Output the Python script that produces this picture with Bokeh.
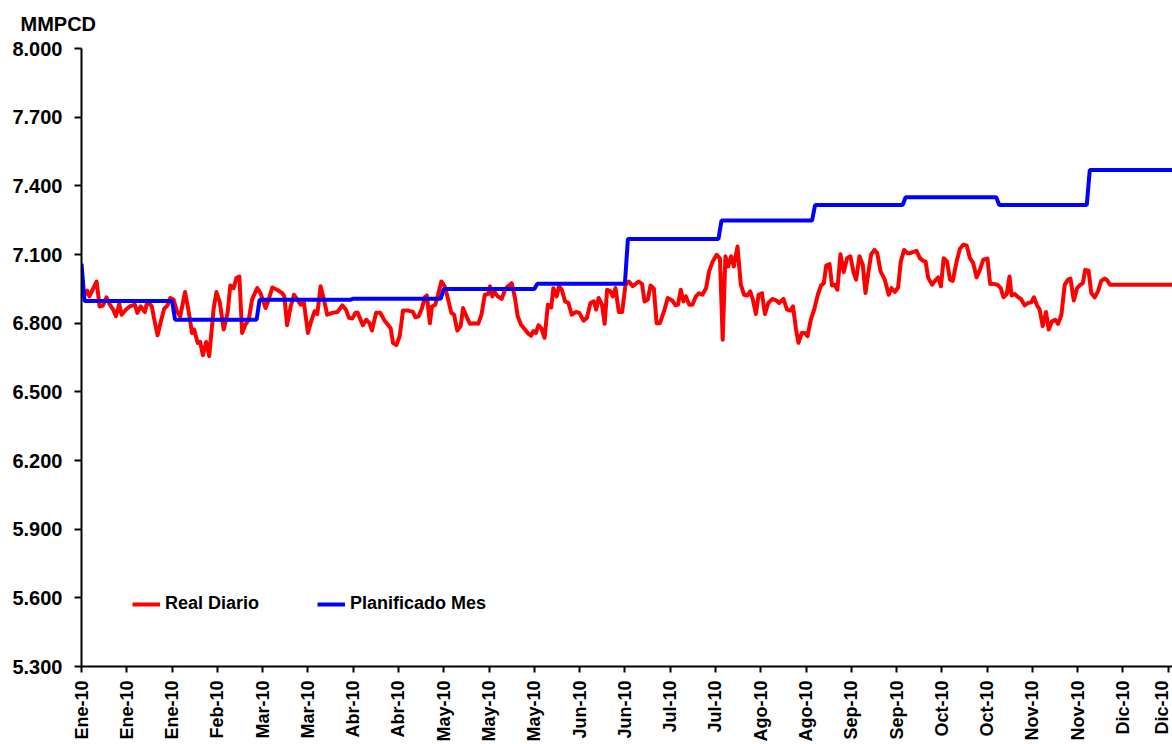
from bokeh.plotting import figure
from bokeh.models import Range1d, FixedTicker, PrintfTickFormatter, Legend, LegendItem, Title
from bokeh.embed import file_html
from bokeh.resources import INLINE

# ---------------- data ----------------
x_tick_days = [0, 15, 30, 45, 60, 75, 90, 105, 120, 135, 150, 165, 180, 195, 210,
               225, 240, 255, 270, 285, 300, 315, 330, 345, 360]
x_tick_labels = ["Ene-10", "Ene-10", "Ene-10", "Feb-10", "Mar-10", "Mar-10", "Abr-10",
                 "Abr-10", "May-10", "May-10", "May-10", "Jun-10", "Jun-10", "Jul-10",
                 "Jul-10", "Ago-10", "Ago-10", "Sep-10", "Sep-10", "Oct-10", "Oct-10",
                 "Nov-10", "Nov-10", "Dic-10", "Dic-10"]
y_ticks = [5.3, 5.6, 5.9, 6.2, 6.5, 6.8, 7.1, 7.4, 7.7, 8.0]

# Planificado Mes: monthly plan values
month_lengths = [31, 28, 31, 30, 31, 30, 31, 31, 30, 31, 30, 31]
plan_values = [6.897, 6.815, 6.902, 6.907, 6.949, 6.972, 7.168, 7.248, 7.316, 7.350, 7.316, 7.469]
plan_first_day = 7.06

# Real Diario: day of year and value
real_days = [0, 0.5, 1.2, 1.9, 2.6, 5.0, 6.0, 7.1, 8.3, 9.4, 10.5, 11.4, 12.5, 13.3, 14.7, 16.0,
             17.7, 18.5, 19.6, 21.0, 21.8, 23.3, 24.0, 25.2, 26.3, 27.4, 28.5, 29.4, 30.5, 31.6,
             32.7, 34.3, 35.5, 36.6, 37.3, 38.5, 39.3, 40.2, 41.3, 42.3, 43.8, 44.7, 45.8, 47.1,
             48.4, 49.3, 50.4, 51.3, 52.3, 53.2, 54.3, 55.4, 56.5, 58.2, 59.3, 61.0, 62.0, 63.2,
             64.8, 66.5, 67.2, 68.1, 69.3, 70.4, 71.5, 72.6, 73.7, 75.0, 75.9, 77.2, 78.1, 79.2,
             80.3, 81.4, 83.1, 84.8, 86.4, 87.6, 88.6, 89.7, 90.8, 91.5, 93.2, 94.3, 95.4, 96.2,
             97.6, 99.0, 100.4, 101.5, 102.4, 103.2, 104.3, 105.4, 106.5, 108.2, 109.8, 110.6,
             111.7, 112.8, 113.7, 114.4, 115.4, 116.1, 117.2, 118.1, 119.2, 120.3, 121.2, 122.5,
             123.4, 124.5, 125.6, 126.4, 127.5, 128.7, 130.1, 131.4, 132.5, 133.6, 134.7, 135.3,
             136.1, 136.8, 137.9, 139.2, 140.3, 141.2, 142.0, 142.5, 143.6, 144.5, 145.6, 146.9,
             148.0, 148.9, 149.7, 150.5, 151.4, 152.3, 153.4, 154.5, 155.6, 156.3, 157.4, 158.2,
             159.1, 160.2, 161.3, 162.4, 163.8, 164.9, 166.3, 167.4, 168.6, 169.7, 170.5, 171.3,
             172.4, 173.3, 174.1, 175.2, 176.0, 176.9, 178.0, 179.1, 180.2, 181.3, 182.6, 184.6,
             185.7, 186.5, 187.6, 188.5, 189.6, 190.5, 191.6, 192.9, 194.2, 195.7, 196.8, 197.6,
             198.5, 199.4, 200.2, 201.3, 202.4, 203.5, 204.6, 205.7, 206.9, 207.9, 209.0, 210.4,
             211.5, 212.4, 213.3, 214.2, 215.2, 216.1, 217.3, 218.4, 219.5, 220.6, 221.5, 222.4,
             223.4, 224.3, 225.4, 226.4, 227.5, 228.9, 230.2, 231.1, 232.5, 233.7, 234.8, 235.7,
             236.7, 237.5, 238.6, 239.6, 240.5, 241.6, 242.7, 243.9, 245.0, 245.9, 246.7, 247.8,
             248.6, 249.5, 250.4, 251.4, 252.5, 253.6, 254.7, 255.8, 256.6, 257.7, 258.8, 259.7,
             260.7, 261.6, 262.7, 263.6, 264.7, 266.1, 267.4, 268.3, 269.4, 270.5, 271.4, 272.5,
             273.6, 274.5, 276.6, 277.7, 278.8, 279.6, 280.5, 281.8, 282.7, 283.8, 284.7, 285.6,
             286.7, 287.7, 288.6, 289.9, 291.0, 292.1, 293.2, 294.3, 295.4, 296.5, 297.6, 298.7,
             300.1, 301.0, 302.2, 303.4, 304.5, 305.4, 306.5, 307.4, 308.1, 309.2, 310.3, 311.2,
             312.4, 313.5, 314.6, 315.5, 316.5, 317.4, 318.4, 319.5, 320.4, 321.5, 322.6, 323.5,
             324.6, 325.7, 326.8, 327.6, 328.7, 329.8, 330.9, 331.7, 332.5, 333.6, 334.5, 335.6,
             336.7, 337.8, 338.9, 339.6, 340.7, 364.0]
real_values = [6.968, 6.939, 6.927, 6.942, 6.917, 6.982, 6.873, 6.877, 6.913, 6.881, 6.859, 6.830,
               6.884, 6.837, 6.859, 6.873, 6.881, 6.845, 6.873, 6.849, 6.895, 6.873, 6.823, 6.747,
               6.808, 6.863, 6.878, 6.910, 6.903, 6.852, 6.830, 6.936, 6.852, 6.757, 6.772, 6.714,
               6.718, 6.660, 6.718, 6.656, 6.866, 6.936, 6.892, 6.772, 6.845, 6.965, 6.953, 6.997,
               7.004, 6.757, 6.793, 6.815, 6.903, 6.953, 6.931, 6.866, 6.903, 6.956, 6.946, 6.931,
               6.917, 6.791, 6.873, 6.924, 6.903, 6.881, 6.888, 6.757, 6.800, 6.852, 6.840, 6.961,
               6.903, 6.837, 6.845, 6.849, 6.878, 6.859, 6.823, 6.820, 6.845, 6.845, 6.791, 6.815,
               6.800, 6.768, 6.845, 6.845, 6.811, 6.793, 6.778, 6.714, 6.704, 6.743, 6.855, 6.855,
               6.849, 6.826, 6.830, 6.866, 6.913, 6.921, 6.800, 6.873, 6.881, 6.924, 6.982, 6.961,
               6.917, 6.845, 6.837, 6.768, 6.787, 6.866, 6.830, 6.797, 6.800, 6.797, 6.837, 6.924,
               6.927, 6.961, 6.917, 6.936, 6.917, 6.906, 6.946, 6.961, 6.968, 6.975, 6.910, 6.830,
               6.793, 6.772, 6.754, 6.745, 6.765, 6.757, 6.791, 6.778, 6.736, 6.881, 6.869, 6.953,
               6.917, 6.961, 6.946, 6.895, 6.888, 6.837, 6.849, 6.845, 6.811, 6.823, 6.888, 6.895,
               6.859, 6.910, 6.881, 6.797, 6.946, 6.939, 6.917, 6.953, 6.849, 6.849, 6.968, 6.982,
               6.962, 6.982, 6.971, 6.895, 6.903, 6.965, 6.951, 6.800, 6.800, 6.849, 6.910, 6.899,
               6.878, 6.881, 6.946, 6.895, 6.917, 6.881, 6.881, 6.917, 6.931, 6.924, 6.953, 7.026,
               7.067, 7.099, 7.082, 6.728, 7.092, 7.048, 7.092, 7.048, 7.135, 6.968, 6.924, 6.921,
               6.939, 6.903, 6.840, 6.924, 6.931, 6.840, 6.888, 6.906, 6.899, 6.888, 6.906, 6.859,
               6.855, 6.873, 6.772, 6.714, 6.757, 6.757, 6.743, 6.815, 6.859, 6.924, 6.965, 6.975,
               7.052, 7.058, 6.965, 6.968, 6.946, 7.101, 7.023, 7.084, 7.092, 7.019, 6.990, 7.092,
               7.055, 6.932, 7.026, 7.101, 7.120, 7.106, 7.026, 6.990, 6.924, 6.953, 6.936, 6.956,
               7.070, 7.120, 7.106, 7.106, 7.116, 7.084, 7.072, 7.070, 6.997, 6.968, 6.985, 7.000,
               6.961, 7.084, 7.070, 6.990, 6.985, 7.070, 7.125, 7.143, 7.140, 7.084, 7.062, 7.000,
               7.033, 7.077, 7.082, 6.971, 6.971, 6.968, 6.953, 6.913, 6.927, 7.004, 6.921, 6.927,
               6.913, 6.906, 6.878, 6.888, 6.891, 6.913, 6.878, 6.859, 6.787, 6.849, 6.772, 6.808,
               6.815, 6.797, 6.837, 6.968, 6.990, 6.995, 6.899, 6.953, 6.968, 6.975, 7.033, 7.029,
               6.932, 6.913, 6.939, 6.985, 6.995, 6.990, 6.968, 6.968]

# build daily plan series from monthly values
plan_days = [0]
plan_daily = [plan_first_day]
d = 0
for m, n in enumerate(month_lengths):
    for _ in range(n):
        if d > 0:
            plan_days.append(d)
            plan_daily.append(plan_values[m])
        d += 1

FONT = "Liberation Sans"

p = figure(width=1172, height=744, output_backend="svg", toolbar_location=None,
           x_range=Range1d(0, 361.4), y_range=Range1d(5.3, 8.0),
           min_border_left=81, min_border_right=0, min_border_top=48, min_border_bottom=76)
p.outline_line_color = None
p.grid.visible = False
p.background_fill_color = "white"

r_real = p.line(real_days, real_values, line_color="#FF0000", line_width=4, line_join="round")
r_plan = p.line(plan_days, plan_daily, line_color="#0000FF", line_width=4)

# axes
for ax in (p.xaxis[0], p.yaxis[0]):
    ax.axis_line_width = 2
    ax.axis_line_color = "black"
    ax.major_tick_line_width = 2
    ax.major_tick_line_color = "black"
    ax.major_tick_in = 0
    ax.minor_tick_line_color = None
    ax.major_label_text_font = FONT
    ax.major_label_text_font_style = "bold"
    ax.major_label_text_color = "black"

p.yaxis.ticker = FixedTicker(ticks=y_ticks)
p.yaxis.formatter = PrintfTickFormatter(format="%.3f")
p.yaxis.major_tick_out = 7
p.yaxis.major_label_standoff = 12
p.yaxis.major_label_text_font_size = "20px"

p.xaxis.ticker = FixedTicker(ticks=x_tick_days)
p.xaxis.major_label_overrides = {d: l for d, l in zip(x_tick_days, x_tick_labels)}
p.xaxis.major_label_orientation = 1.5708
p.xaxis.major_tick_out = 6
p.xaxis.major_label_standoff = 8
p.xaxis.major_label_text_font_size = "18px"

# unit title above the y axis
t = Title(text="MMPCD", align="left", offset=-61, vertical_align="top",
          text_font=FONT, text_font_style="bold",
          text_font_size="20px", text_color="black", standoff=24)
p.add_layout(t, "above")

legend = Legend(items=[LegendItem(label="Real Diario", renderers=[r_real]),
                       LegendItem(label="Planificado Mes", renderers=[r_plan])],
                orientation="horizontal", location=(51, 52),
                border_line_alpha=0, background_fill_alpha=0,
                glyph_width=28, label_standoff=5, spacing=58, padding=0, margin=0,
                label_text_font=FONT, label_text_font_style="bold",
                label_text_font_size="18px", label_text_color="black")
p.add_layout(legend, "center")

open("out.html", "w").write(file_html(p, INLINE))
